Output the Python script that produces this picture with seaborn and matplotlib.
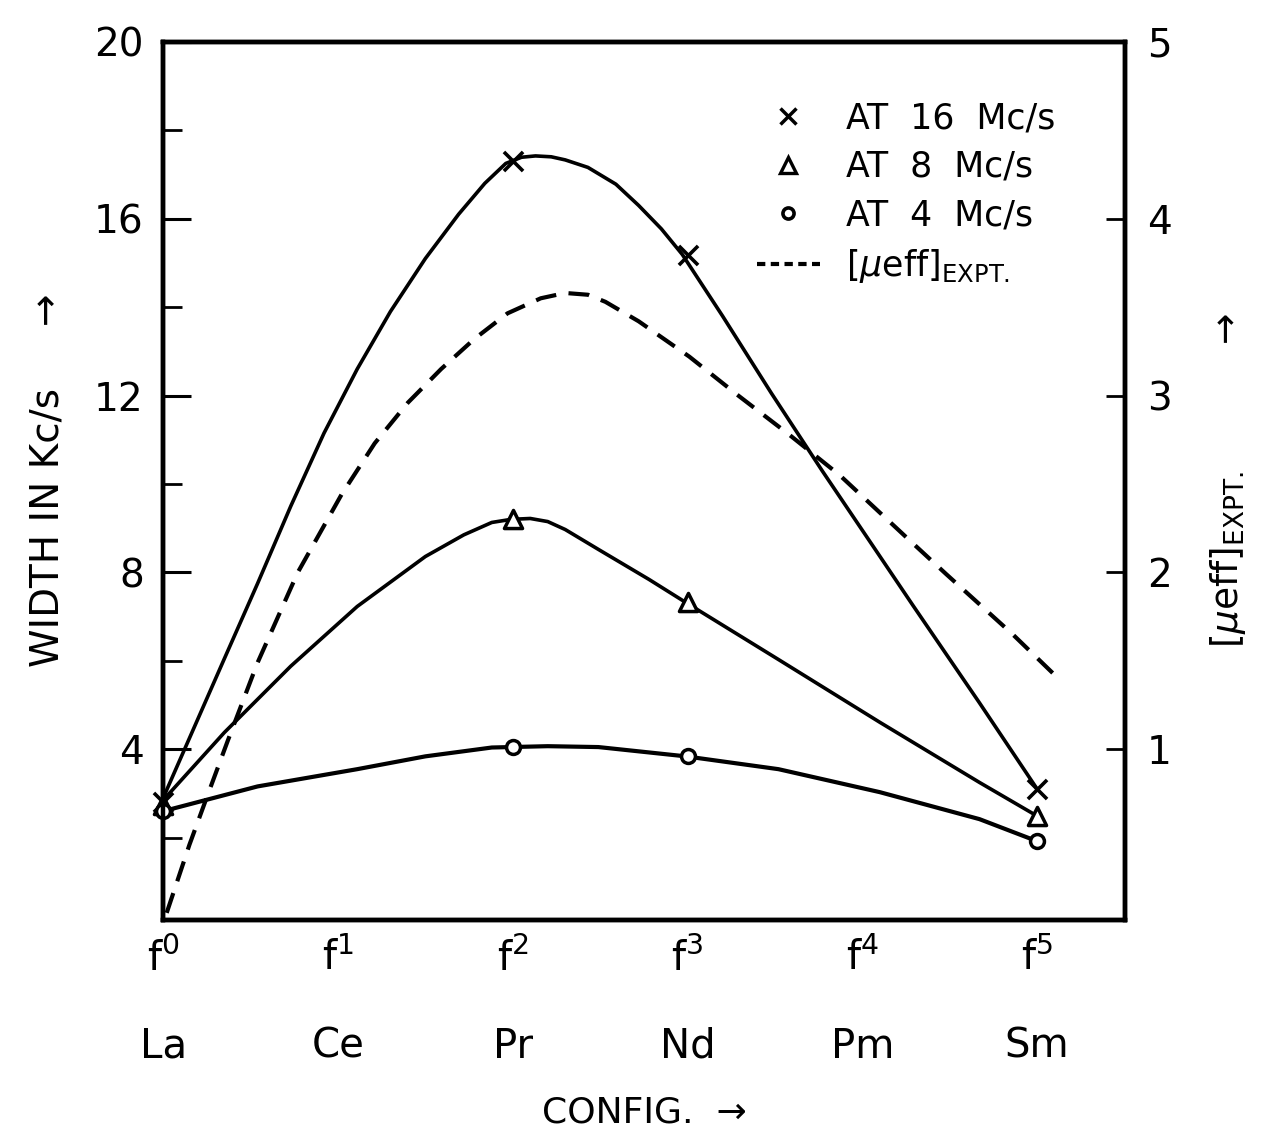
import matplotlib
matplotlib.use("Agg")
import matplotlib.pyplot as plt
from matplotlib.lines import Line2D
from matplotlib.ticker import MultipleLocator
import seaborn as sns

# ---- data ----
configs = ["f$^{0}$", "f$^{1}$", "f$^{2}$", "f$^{3}$", "f$^{4}$", "f$^{5}$"]
elements = ["La", "Ce", "Pr", "Nd", "Pm", "Sm"]

# measured points (x = configuration index)
pts_x = [0, 2, 3, 5]
w16_pts = [2.8, 17.3, 15.17, 3.1]
w8_pts = [2.75, 9.2, 7.32, 2.5]
w4_pts = [2.6, 4.05, 3.84, 1.93]

# smooth curves (left axis units, Kc/s)
c16_x = [0.0, 0.15, 0.35, 0.54, 0.73, 0.92, 1.11, 1.30, 1.50, 1.69, 1.84, 1.96, 2.05,
         2.13, 2.22, 2.30, 2.43, 2.59, 2.72, 2.85, 2.97, 3.20, 3.48, 3.77, 4.06, 4.29,
         4.67, 5.0]
c16_y = [2.9, 4.25, 6.05, 7.75, 9.5, 11.15, 12.6, 13.9, 15.1, 16.1, 16.8, 17.25, 17.39,
         17.42, 17.40, 17.33, 17.16, 16.78, 16.3, 15.77, 15.19, 13.8, 12.05, 10.3, 8.6, 7.25,
         5.05, 3.10]

c8_x = [0.0, 0.35, 0.73, 1.11, 1.50, 1.72, 1.88, 1.99, 2.10, 2.20, 2.30, 2.49, 2.78, 2.99,
        3.52, 4.10, 4.67, 5.0]
c8_y = [2.85, 4.38, 5.88, 7.23, 8.36, 8.85, 9.13, 9.2, 9.22, 9.15, 8.97, 8.52, 7.84, 7.32,
        6.03, 4.61, 3.25, 2.49]

c4_x = [0.0, 0.54, 1.11, 1.50, 1.88, 2.20, 2.49, 2.99, 3.52, 4.10, 4.67, 5.0]
c4_y = [2.6, 3.16, 3.55, 3.84, 4.04, 4.07, 4.05, 3.84, 3.55, 3.03, 2.42, 1.92]

# [mu_eff]_EXPT (right axis units)
mu_x = [0.02, 0.15, 0.25, 0.37, 0.54, 0.77, 1.02, 1.21, 1.40, 1.59, 1.78, 1.97, 2.16,
        2.30, 2.43, 2.53, 2.72, 3.01, 3.29, 3.58, 3.87, 4.25, 4.48, 4.86, 5.09]
mu_y = [0.075, 0.46, 0.73, 1.05, 1.49, 2.0, 2.44, 2.73, 2.96, 3.15, 3.32, 3.465, 3.55,
        3.58, 3.57, 3.53, 3.42, 3.22, 3.0, 2.78, 2.55, 2.2, 1.99, 1.65, 1.43]

legend_labels = ["AT  16  Mc/s", "AT  8  Mc/s", "AT  4  Mc/s",
                 r"$\left[\mu\mathrm{eff}\right]_{\mathrm{EXPT.}}$"]

# ---- plotting ----
sns.set_theme(style="white")
plt.rcParams["font.family"] = ["DejaVu Sans"]
plt.rcParams["mathtext.fontset"] = "dejavusans"
plt.rcParams["text.color"] = "black"
plt.rcParams["axes.labelcolor"] = "black"
plt.rcParams["xtick.color"] = "black"
plt.rcParams["ytick.color"] = "black"

fig = plt.figure(figsize=(12.75, 11.31), dpi=100)
ax = fig.add_axes([0.128, 0.187, 0.754, 0.776])

lw = 2.6
sns.lineplot(x=c16_x, y=c16_y, ax=ax, color="black", linewidth=lw, sort=False)
sns.lineplot(x=c8_x, y=c8_y, ax=ax, color="black", linewidth=lw, sort=False)
sns.lineplot(x=c4_x, y=c4_y, ax=ax, color="black", linewidth=lw + 0.4, sort=False)

sns.scatterplot(x=pts_x, y=w16_pts, ax=ax, marker="x", s=190, color="black",
                linewidth=2.6, zorder=5, clip_on=False)
sns.scatterplot(x=pts_x, y=w8_pts, ax=ax, marker="^", s=170, facecolor="white",
                edgecolor="black", linewidth=2.5, zorder=5, clip_on=False)
sns.scatterplot(x=pts_x, y=w4_pts, ax=ax, marker="o", s=100, facecolor="white",
                edgecolor="black", linewidth=2.5, zorder=6, clip_on=False)

ax.set_xlim(0, 5.5)
ax.set_ylim(0.15, 20)
ax.set_xticks(range(6))
ax.set_xticklabels(configs, fontsize=29)
ax.set_yticks([4, 8, 12, 16, 20])
ax.yaxis.set_minor_locator(MultipleLocator(2))
ax.set_yticklabels(["4", "8", "12", "16", "20"], fontsize=28)
ax.tick_params(axis="y", which="major", direction="in", length=20, width=2.2, pad=14, right=False)
ax.tick_params(axis="y", which="minor", direction="in", length=14, width=2.0, left=True, right=False)
ax.tick_params(axis="x", which="major", direction="in", length=12, width=2.0, pad=14, top=False)

for sp in ax.spines.values():
    sp.set_linewidth(3.2)
    sp.set_color("black")

ax.set_ylabel("WIDTH IN Kc/s     \u2192", fontsize=28, labelpad=20)

# element names under the configuration labels
for i, el in enumerate(elements):
    ax.text(i, -0.145, el, transform=ax.get_xaxis_transform(), ha="center", va="center",
            fontsize=29)
ax.text(0.5, -0.22, "CONFIG.  \u2192", transform=ax.transAxes, ha="center", va="center",
        fontsize=26)

# right axis
ax2 = ax.twinx()
sns.lineplot(x=mu_x, y=mu_y, ax=ax2, color="black", linewidth=3.0, sort=False,
             linestyle=(0, (5, 3)))
ax2.set_ylim(0.15 / 4, 5)
ax2.set_yticks([1, 2, 3, 4, 5])
ax2.set_yticklabels(["1", "2", "3", "4", "5"], fontsize=28)
ax2.tick_params(axis="y", direction="in", length=14, width=2.0, pad=16)
for sp in ax2.spines.values():
    sp.set_linewidth(3.2)
    sp.set_color("black")
ax2.set_ylabel(r"$\left[\mu\mathrm{eff}\right]_{\mathrm{EXPT.}}$" + "          \u2192",
               fontsize=27, labelpad=26)

# legend
handles = [
    Line2D([], [], marker="x", color="black", ls="none", markersize=11, mew=2.5),
    Line2D([], [], marker="^", color="black", mfc="white", ls="none", markersize=11, mew=2.4),
    Line2D([], [], marker="o", color="black", mfc="white", ls="none", markersize=8, mew=2.6),
    Line2D([], [], color="black", lw=3.0, ls=(0, (2.0, 1.3))),
]
leg = ax2.legend(handles, legend_labels, loc="upper right", bbox_to_anchor=(0.953, 0.96),
                 frameon=False, fontsize=25, handlelength=1.8, handletextpad=0.75,
                 labelspacing=0.42, borderpad=0.2)
for t in leg.get_texts():
    t.set_color("black")

fig.savefig("out.png", dpi=100)
